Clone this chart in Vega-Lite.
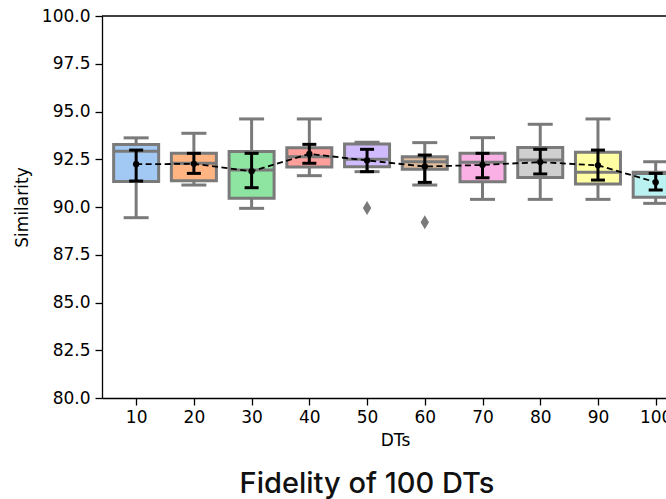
{
  "$schema": "https://vega.github.io/schema/vega-lite/v6.json",
  "width": 564,
  "height": 382,
  "autosize": "none",
  "padding": {"left": 102, "top": 16, "right": 0, "bottom": 101},
  "background": "white",
  "datasets": {
    "boxes": [
      {"dt": 10, "wlo": 89.44, "q1": 91.34, "med": 92.92, "q3": 93.27, "whi": 93.62, "mean": 92.24, "clo": 91.36, "chi": 92.98},
      {"dt": 20, "wlo": 91.15, "q1": 91.38, "med": 92.29, "q3": 92.81, "whi": 93.86, "mean": 92.26, "clo": 91.76, "chi": 92.81},
      {"dt": 30, "wlo": 89.93, "q1": 90.46, "med": 91.94, "q3": 92.9, "whi": 94.61, "mean": 91.87, "clo": 91.01, "chi": 92.81},
      {"dt": 40, "wlo": 91.64, "q1": 92.1, "med": 92.63, "q3": 93.1, "whi": 94.61, "mean": 92.78, "clo": 92.29, "chi": 93.28},
      {"dt": 50, "wlo": 91.85, "q1": 92.11, "med": 92.5, "q3": 93.3, "whi": 93.39, "mean": 92.44, "clo": 91.85, "chi": 93.02},
      {"dt": 60, "wlo": 91.15, "q1": 91.97, "med": 92.37, "q3": 92.63, "whi": 93.37, "mean": 92.12, "clo": 91.29, "chi": 92.72},
      {"dt": 70, "wlo": 90.4, "q1": 91.32, "med": 92.34, "q3": 92.81, "whi": 93.63, "mean": 92.2, "clo": 91.53, "chi": 92.81},
      {"dt": 80, "wlo": 90.4, "q1": 91.55, "med": 92.46, "q3": 93.12, "whi": 94.33, "mean": 92.35, "clo": 91.73, "chi": 93.02},
      {"dt": 90, "wlo": 90.4, "q1": 91.2, "med": 91.82, "q3": 92.86, "whi": 94.61, "mean": 92.18, "clo": 91.41, "chi": 92.98},
      {"dt": 100, "wlo": 90.19, "q1": 90.51, "med": 91.75, "q3": 91.82, "whi": 92.37, "mean": 91.3, "clo": 90.89, "chi": 91.76}
    ],
    "outliers": [
      {"dt": 50, "value": 89.95},
      {"dt": 60, "value": 89.2}
    ]
  },
  "config": {
    "view": {"stroke": null},
    "axis": {
      "grid": false,
      "domainColor": "#000000",
      "domainWidth": 1.3,
      "tickColor": "#000000",
      "tickWidth": 1.3,
      "tickSize": 7,
      "labelFont": "DejaVu Sans",
      "labelFontSize": 17,
      "labelColor": "#000000",
      "titleFont": "DejaVu Sans",
      "titleFontSize": 17,
      "titleFontWeight": "normal",
      "titleColor": "#000000"
    }
  },
  "title": {
    "text": "Fidelity of 100 DTs",
    "orient": "bottom",
    "anchor": "middle",
    "font": "Inter",
    "fontSize": 29,
    "fontWeight": 500,
    "color": "#111111",
    "offset": 22,
    "dx": -17
  },
  "layer": [
    {
      "data": {"values": [{"top": 100}]},
      "mark": {"type": "rule", "color": "#000000", "strokeWidth": 1.3},
      "encoding": {"y": {"field": "top", "type": "quantitative", "scale": {"domain": [80, 100], "nice": false, "zero": false}}}
    },
    {
      "data": {"name": "boxes"},
      "mark": {"type": "rule", "color": "#7a7a7a", "strokeWidth": 3, "clip": true},
      "encoding": {
        "x": {
          "field": "dt", "type": "quantitative",
          "scale": {"domain": [4.95, 100.92], "nice": false, "zero": false},
          "axis": {"values": [10, 20, 30, 40, 50, 60, 70, 80, 90, 100], "format": "d", "title": "DTs", "labelFlush": false, "labelOverlap": false, "labelPadding": 4, "titlePadding": 7, "titleX": 293}
        },
        "y": {
          "field": "wlo", "type": "quantitative",
          "scale": {"domain": [80, 100], "nice": false, "zero": false},
          "axis": {"values": [80, 82.5, 85, 87.5, 90, 92.5, 95, 97.5, 100], "format": ".1f", "title": "Similarity", "labelPadding": 5, "titlePadding": 10}
        },
        "y2": {"field": "whi"}
      }
    },
    {
      "data": {"name": "boxes"},
      "mark": {"type": "tick", "orient": "horizontal", "color": "#7a7a7a", "size": 25, "thickness": 3, "opacity": 1, "clip": true},
      "encoding": {"x": {"field": "dt", "type": "quantitative"}, "y": {"field": "wlo", "type": "quantitative"}}
    },
    {
      "data": {"name": "boxes"},
      "mark": {"type": "tick", "orient": "horizontal", "color": "#7a7a7a", "size": 25, "thickness": 3, "opacity": 1, "clip": true},
      "encoding": {"x": {"field": "dt", "type": "quantitative"}, "y": {"field": "whi", "type": "quantitative"}}
    },
    {
      "data": {"name": "boxes"},
      "mark": {"type": "bar", "size": 45, "stroke": "#7a7a7a", "strokeWidth": 3, "opacity": 1, "clip": true},
      "encoding": {
        "x": {"field": "dt", "type": "quantitative"},
        "y": {"field": "q1", "type": "quantitative"},
        "y2": {"field": "q3"},
        "fill": {
          "field": "dt", "type": "nominal", "legend": null,
          "scale": {"domain": [10, 20, 30, 40, 50, 60, 70, 80, 90, 100], "range": ["#a1c9f4", "#ffb482", "#8de5a1", "#ff9f9b", "#d0bbff", "#debb9b", "#fab0e4", "#cfcfcf", "#fffea3", "#b9f2f0"]}
        }
      }
    },
    {
      "data": {"name": "boxes"},
      "mark": {"type": "tick", "orient": "horizontal", "color": "#7a7a7a", "size": 45, "thickness": 3, "opacity": 1, "clip": true},
      "encoding": {"x": {"field": "dt", "type": "quantitative"}, "y": {"field": "med", "type": "quantitative"}}
    },
    {
      "data": {"name": "boxes"},
      "mark": {"type": "line", "color": "#000000", "strokeWidth": 1.8, "strokeDash": [6, 3.5], "clip": true},
      "encoding": {"x": {"field": "dt", "type": "quantitative"}, "y": {"field": "mean", "type": "quantitative"}}
    },
    {
      "data": {"name": "boxes"},
      "mark": {"type": "rule", "color": "#000000", "strokeWidth": 3, "clip": true},
      "encoding": {"x": {"field": "dt", "type": "quantitative"}, "y": {"field": "clo", "type": "quantitative"}, "y2": {"field": "chi"}}
    },
    {
      "data": {"name": "boxes"},
      "mark": {"type": "tick", "orient": "horizontal", "color": "#000000", "size": 14, "thickness": 3, "opacity": 1, "clip": true},
      "encoding": {"x": {"field": "dt", "type": "quantitative"}, "y": {"field": "clo", "type": "quantitative"}}
    },
    {
      "data": {"name": "boxes"},
      "mark": {"type": "tick", "orient": "horizontal", "color": "#000000", "size": 14, "thickness": 3, "opacity": 1, "clip": true},
      "encoding": {"x": {"field": "dt", "type": "quantitative"}, "y": {"field": "chi", "type": "quantitative"}}
    },
    {
      "data": {"name": "boxes"},
      "mark": {"type": "point", "shape": "circle", "filled": true, "color": "#000000", "size": 40, "opacity": 1, "clip": true},
      "encoding": {"x": {"field": "dt", "type": "quantitative"}, "y": {"field": "mean", "type": "quantitative"}}
    },
    {
      "data": {"name": "outliers"},
      "mark": {"type": "point", "shape": "M0,-1L0.6,0L0,1L-0.6,0Z", "filled": true, "color": "#7a7a7a", "size": 196, "opacity": 1, "clip": true},
      "encoding": {"x": {"field": "dt", "type": "quantitative"}, "y": {"field": "value", "type": "quantitative"}}
    }
  ]
}
